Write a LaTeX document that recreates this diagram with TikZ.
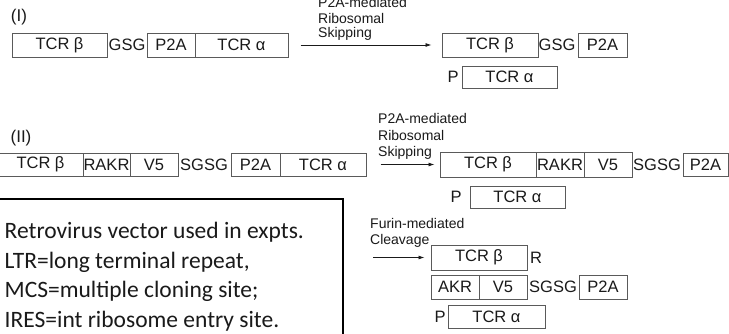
\documentclass[tikz,border=0pt]{standalone}
\usepackage{fontspec}
\setmainfont{Liberation Sans}
\newfontfamily\carl{Carlito}
\usetikzlibrary{arrows.meta}
\definecolor{boxline}{HTML}{5A5A5A}
\definecolor{ink}{HTML}{1A1A1A}
\tikzset{
  gbox/.style={draw=boxline, line width=1pt, inner sep=0pt, minimum height=24pt, font=\fontsize{16.5}{18}\selectfont, text=ink},
  lbl/.style={inner sep=0pt, font=\fontsize{16.5}{18}\selectfont, text=ink},
  small/.style={inner sep=0pt, anchor=west, font=\fontsize{14}{16}\selectfont, text=ink},
  arr/.style={draw=ink, line width=0.8pt, -{Latex[length=6pt,width=4pt]}},
}
\begin{document}
\begin{tikzpicture}[x=1pt,y=-1pt]
\useasboundingbox (0,0) rectangle (729,333);
\fill[white] (0,0) rectangle (729,333);
% Row I
\node[lbl, font=\fontsize{17}{19}\selectfont] (labI) at (19,17) {(I)};
\node[gbox, minimum width=95pt] (ib1) at (59.5,45) {TCR β};
\node[lbl] (ig1) at (127,45) {GSG};
\node[gbox, minimum width=48pt] (ip1) at (171,45) {P2A};
\node[gbox, minimum width=93pt] (ia1) at (241.5,45) {TCR α};
\node[small] (s1a) at (318,2) {P2A-mediated};
\node[small] (s1b) at (318,18) {Ribosomal};
\node[small] (s1c) at (318,34) {Skipping};
\node[gbox, minimum width=96pt] (ib2) at (490,45) {TCR β};
\node[lbl] (ig2) at (557,45) {GSG};
\node[gbox, minimum width=49pt] (ip2) at (602.5,45) {P2A};
\node[lbl] (iP) at (453,77) {P};
\node[gbox, minimum width=95pt, minimum height=22pt] (ia2) at (509.5,77) {TCR α};
\draw[arr, shorten <=12pt, shorten >=10pt] (ia1.east) -- (ib2.west);
% Row II
\node[lbl, font=\fontsize{17}{19}\selectfont] (labII) at (21,138) {(II)};
\node[gbox, minimum width=85pt, minimum height=23pt] (jb1) at (40.5,164.5) {TCR β};
\node[gbox, minimum width=47pt, minimum height=23pt] (jr1) at (106.5,164.5) {RAKR};
\node[gbox, minimum width=48pt, minimum height=23pt] (jv1) at (154,164.5) {V5};
\node[lbl] (jg1) at (204,165) {SGSG};
\node[gbox, minimum width=49pt, minimum height=23pt] (jp1) at (255.5,164.5) {P2A};
\node[gbox, minimum width=86pt, minimum height=23pt] (ja1) at (323,164.5) {TCR α};
\node[small] (s2a) at (378,118) {P2A-mediated};
\node[small] (s2b) at (378,135) {Ribosomal};
\node[small] (s2c) at (378,153) {Skipping};
\node[gbox, minimum width=96pt, minimum height=25pt] (jb2) at (488,164.5) {TCR β};
\node[gbox, minimum width=48pt, minimum height=25pt] (jr2) at (560,164.5) {RAKR};
\node[gbox, minimum width=48pt, minimum height=25pt] (jv2) at (608,164.5) {V5};
\node[lbl] (jg2) at (657,165) {SGSG};
\node[gbox, minimum width=45pt, minimum height=23pt] (jp2) at (705.5,164.5) {P2A};
\node[lbl] (jP) at (456,197) {P};
\node[gbox, minimum width=95pt, minimum height=22pt] (ja2) at (517.5,197) {TCR α};
\draw[arr, shorten <=14pt, shorten >=5pt] (ja1.east) -- (jb2.west);
% Row III
\node[small] (s3a) at (370,223) {Furin-mediated};
\node[small] (s3b) at (370,241) {Cleavage};
\node[gbox, minimum width=96pt, minimum height=25pt] (kb) at (479,257.5) {TCR β};
\node[lbl] (kR) at (536,258) {R};
\node[gbox, minimum width=48pt] (kr) at (455,287) {AKR};
\node[gbox, minimum width=48pt] (kv) at (503,287) {V5};
\node[lbl] (kg) at (553,287) {SGSG};
\node[gbox, minimum width=48pt] (kp) at (603,287) {P2A};
\node[lbl] (kP) at (440,317) {P};
\node[gbox, minimum width=97pt, minimum height=23pt] (ka) at (496.5,316.5) {TCR α};
\coordinate (kstart) at (373,257.5);
\draw[arr, shorten >=6pt] (kstart) -- (kb.west);
% Note box
\node[draw=black, line width=1.8pt, inner sep=0pt, minimum width=344pt, minimum height=145pt, anchor=north west] (note) at (-2,198) {};
\node[inner sep=0pt, anchor=north west, align=left, text=ink, font=\carl\fontsize{23.5}{29.5}\selectfont] (notetext) at (4.5,222) {Retrovirus vector used in expts.\\LTR=long terminal repeat,\\MCS=multiple cloning site;\\IRES=int ribosome entry site.};
\end{tikzpicture}
\end{document}
